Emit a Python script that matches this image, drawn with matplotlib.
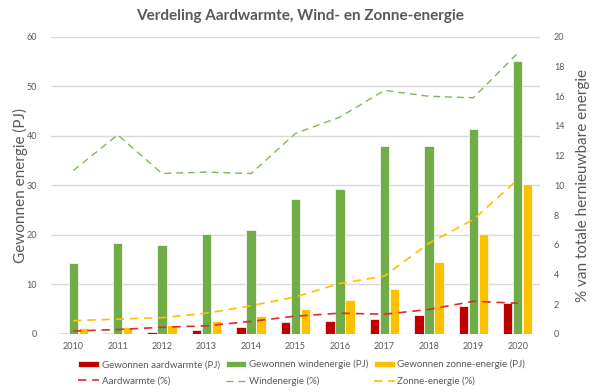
import matplotlib.pyplot as plt
import numpy as np

plt.rcParams['font.family'] = ['Lato', 'DejaVu Sans']

jaren = ['2010', '2011', '2012', '2013', '2014', '2015', '2016', '2017', '2018', '2019', '2020']

# gewonnen energie (PJ)
aardwarmte_pj = [0.1, 0.1, 0.5, 0.9, 1.4, 2.4, 2.7, 3.0, 3.8, 5.7, 6.2]
wind_pj = [14.4, 18.3, 17.9, 20.2, 20.9, 27.3, 29.3, 38.0, 37.9, 41.3, 55.1]
zon_pj = [1.2, 1.4, 1.8, 2.6, 3.6, 5.0, 6.8, 9.0, 14.5, 20.2, 30.3]

# aandeel in totale hernieuwbare energie (%)
aardwarmte_pct = [0.2, 0.3, 0.45, 0.55, 0.85, 1.2, 1.4, 1.33, 1.65, 2.2, 2.07]
wind_pct = [11.0, 13.4, 10.8, 10.9, 10.8, 13.5, 14.6, 16.4, 16.0, 15.9, 18.9]
zon_pct = [0.9, 1.0, 1.1, 1.4, 1.9, 2.5, 3.4, 3.9, 6.1, 7.7, 10.4]

rood = '#C00000'
groen = '#70AD47'
geel = '#FFC000'
grijs = '#595959'

fig = plt.figure(figsize=(6, 3.92), dpi=100)
ax = fig.add_axes([0.085, 0.148, 0.815, 0.758])
ax2 = ax.twinx()

x = np.arange(len(jaren))
b = 0.21
h1 = ax.bar(x - 0.225, aardwarmte_pj, b, color=rood, edgecolor='white', linewidth=0.5,
            label='Gewonnen aardwarmte (PJ)', zorder=2)
h2 = ax.bar(x, wind_pj, b, color=groen, edgecolor='white', linewidth=0.5,
            label='Gewonnen windenergie (PJ)', zorder=2)
h3 = ax.bar(x + 0.225, zon_pj, b, color=geel, edgecolor='white', linewidth=0.5,
            label='Gewonnen zonne-energie (PJ)', zorder=2)

dash = (5, 3.5)
l1, = ax2.plot(x, aardwarmte_pct, color='#E02B2B', lw=1.2, dashes=dash, label='Aardwarmte (%)')
l2, = ax2.plot(x, wind_pct, color='#7DB957', lw=1.0, dashes=dash, label='Windenergie (%)')
l3, = ax2.plot(x, zon_pct, color=geel, lw=1.2, dashes=dash, label='Zonne-energie (%)')

ax.set_xlim(-0.5, len(jaren) - 0.5)
ax.set_ylim(0, 60)
ax2.set_ylim(0, 20)
ax.set_yticks(range(0, 61, 10))
ax2.set_yticks(range(0, 21, 2))
ax.set_xticks(x)
ax.set_xticklabels(jaren)
ax.grid(axis='y', color='#D9D9D9', lw=1.0, zorder=0)
ax.set_axisbelow(True)
for a in (ax, ax2):
    for s in a.spines.values():
        s.set_visible(False)
    a.tick_params(length=0, labelsize=6.5, colors=grijs, pad=6)
ax.tick_params(axis='y', pad=10)
ax2.tick_params(axis='y', pad=10)

ax.set_ylabel('Gewonnen energie (PJ)', fontsize=11, color=grijs, labelpad=-1)
ax2.set_ylabel('% van totale hernieuwbare energie', fontsize=11, color=grijs, labelpad=8)
fig.suptitle('Verdeling Aardwarmte, Wind- en Zonne-energie', y=0.978, fontsize=11,
             fontweight='bold', color=grijs)

handles = [h1, l1, h2, l2, h3, l3]
leg = fig.legend(handles=handles, labels=[h.get_label() for h in handles], ncol=3,
                 loc='upper center', bbox_to_anchor=(0.503, 0.1), frameon=False,
                 fontsize=7, handlelength=2.1, handleheight=0.6, columnspacing=0.6,
                 handletextpad=0.3, labelspacing=0.75, labelcolor=grijs,
                 borderpad=0.2)

fig.savefig('out.png', dpi=100)
